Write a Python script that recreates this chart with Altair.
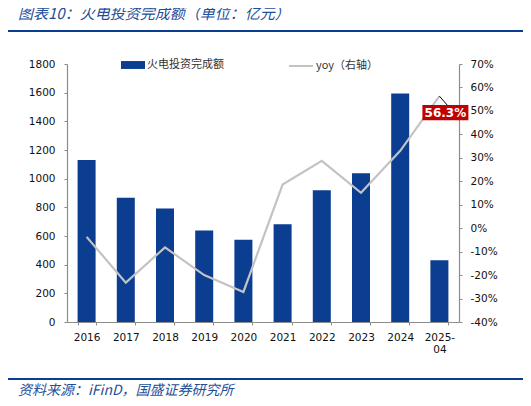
import altair as alt
import pandas as pd

# values
years = ['2016', '2017', '2018', '2019', '2020', '2021', '2022', '2023', '2024', '2025-04']
invest = [1130, 866, 792, 638, 573, 682, 920, 1037, 1595, 431]   # 亿元
yoy = [-3.7, -23.2, -8.2, -20.0, -27.2, 18.6, 28.7, 15.1, 33.0, 56.3]  # %

title_text = '图表10：火电投资完成额（单位：亿元）'
source_text = '资料来源：iFinD，国盛证券研究所'
bar_name = '火电投资完成额'
line_name = 'yoy（右轴）'

data = pd.DataFrame({'year': years, 'invest': invest, 'yoy': yoy})
data['bar_s'] = bar_name
data['line_s'] = line_name
deco = pd.DataFrame({'s': [source_text]})

BLUE = '#0b3d91'
GREY = '#c3c3c3'
NUM_FONT = 'DejaVu Sans'
CJK_FONT = 'Noto Sans CJK SC'

x_enc = alt.X(
    'year:N', sort=years, title=None,
    scale=alt.Scale(paddingInner=0.54, paddingOuter=0.27),
    axis=alt.Axis(labelAngle=0, tickBand='extent', tickSize=3, labelPadding=7,
                  labelExpr="datum.label == '2025-04' ? ['2025-', '04'] : datum.label"),
)

bars = alt.Chart(data).mark_bar(size=18).encode(
    x=x_enc,
    y=alt.Y('invest:Q', title=None,
            scale=alt.Scale(domain=[0, 1800], nice=False),
            axis=alt.Axis(orient='left', values=list(range(0, 1801, 200)), format='d',
                          tickSize=3, labelPadding=9, grid=False)),
    color=alt.Color('bar_s:N', scale=alt.Scale(range=[BLUE]),
                    legend=alt.Legend(orient='none', legendX=54, legendY=-11,
                                      title=None,
                                      symbolType='M-1,-0.33h2v0.66h-2z',
                                      symbolSize=576, symbolStrokeWidth=0,
                                      labelFont=CJK_FONT, labelFontSize=11,
                                      labelColor='#333', labelOffset=2)),
)

y_right = alt.Y('yoy:Q', title=None,
                scale=alt.Scale(domain=[-40, 70], nice=False),
                axis=alt.Axis(orient='right', values=list(range(-40, 71, 10)),
                              labelExpr="datum.value + '%'",
                              tickSize=3, labelPadding=8, grid=False))

line = alt.Chart(data).mark_line(strokeWidth=2.2).encode(
    x=x_enc,
    y=y_right,
    stroke=alt.Stroke('line_s:N', scale=alt.Scale(range=[GREY]),
                      legend=alt.Legend(orient='none', legendX=221, legendY=-11,
                                        title=None, symbolType='stroke',
                                        symbolSize=576, symbolStrokeWidth=2,
                                        labelFont=CJK_FONT, labelFontSize=11,
                                        labelColor='#333', labelOffset=2)),
)

last = alt.Chart(data).transform_filter(
    "datum.year == '2025-04'"
).transform_calculate(label="format(datum.yoy, '.1f') + '%'")

leader = last.mark_point(shape='M0,0L0.7,0.8', size=511, color='#000',
                         strokeWidth=1, filled=False, opacity=1).encode(
    x=x_enc, y=y_right)
box = last.mark_point(shape='M-1,-0.33h2v0.66h-2z', size=2116, filled=True,
                      color='#c00000', opacity=1, xOffset=6, yOffset=16.5).encode(
    x=x_enc, y=y_right)
box_text = last.mark_text(color='white', fontWeight='bold', fontSize=12,
                          font=NUM_FONT, dx=6, dy=16.5).encode(
    x=x_enc, y=y_right, text='label:N')

right_layer = alt.layer(line, leader, box, box_text)

top_rule = alt.Chart(deco).mark_rule(color=BLUE, strokeWidth=2).encode(
    x=alt.value(-59), x2=alt.value(456), y=alt.value(-33))
bottom_rule = alt.Chart(deco).mark_rule(color=BLUE, strokeWidth=2).encode(
    x=alt.value(-59), x2=alt.value(456), y=alt.value(315))
source = alt.Chart(deco).mark_text(align='left', baseline='middle', font=CJK_FONT,
                                   fontSize=14, fontStyle='italic', color='#1f4e9a').encode(
    x=alt.value(-49), y=alt.value(327), text='s:N')

chart = alt.layer(
    top_rule, bars, right_layer, bottom_rule, source
).resolve_scale(
    y='independent'
).properties(
    title=alt.Title(title_text, anchor='start', frame='group', dx=-49, offset=8,
                    font=CJK_FONT, fontSize=15, fontStyle='italic',
                    fontWeight='normal', color='#1f4e9a'),
    width=392, height=258,
    autosize=alt.AutoSizeParams(type='none'),
    padding={'left': 59, 'top': 56, 'right': 64, 'bottom': 80},
).configure_view(
    stroke=None
).configure_axis(
    labelFont=NUM_FONT, labelFontSize=10.5, labelColor='#111',
    domainColor='#8c8c8c', tickColor='#8c8c8c', domainWidth=1.2,
)

chart.save('out.html', embed_options={'renderer': 'svg', 'actions': False})
